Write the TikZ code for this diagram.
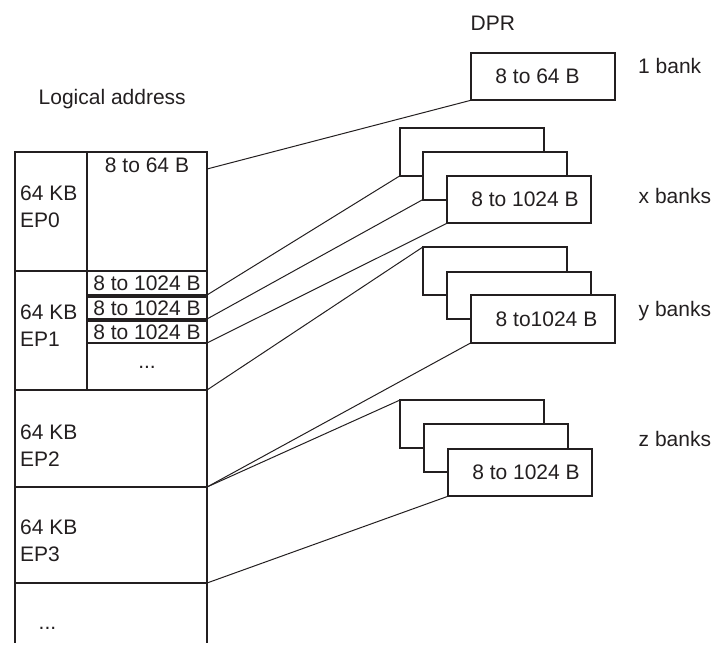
\documentclass[tikz,border=0pt]{standalone}
\usepackage{fontspec}
\setmainfont{Liberation Sans}
\usetikzlibrary{positioning}
\definecolor{ink}{HTML}{231F20}

\begin{document}
\begin{tikzpicture}[
    x=1pt, y=-1pt,
    every node/.style={font=\fontsize{21}{27}\selectfont, inner sep=0pt, text=ink},
    wall/.style={draw=ink, line width=2pt},
    cell/.style={wall, outer sep=0pt, minimum width=#1},
    slot/.style={draw=ink, line width=1.8pt, outer sep=0pt, minimum width=120pt, minimum height=#1},
    bank/.style={wall, fill=white, outer sep=0pt, minimum width=144pt, minimum height=47.5pt},
    lbl/.style={anchor=base west},
    link/.style={draw=ink, line width=1pt}
]
\useasboundingbox (0,0) rectangle (715,651);

% logical address column
\node[cell=72pt, minimum height=119pt, anchor=north west] (ep0) at (15,152) {};
\node[cell=120pt, minimum height=119pt, right=0pt of ep0] (buf0) {};
\node[cell=72pt, minimum height=119pt, below=0pt of ep0] (ep1) {};
\node[cell=120pt, minimum height=119pt, below=0pt of buf0] (buf1) {};
\node[cell=192pt, minimum height=97pt, below=0pt of ep1.south west, anchor=north west] (ep2) {};
\node[cell=192pt, minimum height=96pt, below=0pt of ep2] (ep3) {};
\draw[wall] (ep3.south west) -- ++(0,60) (ep3.south east) -- ++(0,60);

\node[slot=24pt, below=0pt of buf1.north] (s1) {8 to 1024 B};
\node[slot=22pt, below=2pt of s1] (s2) {8 to 1024 B};
\node[slot=22pt, below=2pt of s2] (s3) {8 to 1024 B};

\node (sz0) at (147,165) {8 to 64 B};
\node (dots1) at (147,367) {...};
\node[anchor=west, align=left] (ep0txt) at (20,206.5) {64 KB\\EP0};
\node[anchor=west, align=left] (ep1txt) at (20,325.5) {64 KB\\EP1};
\node[anchor=west, align=left] (ep2txt) at (20,445.5) {64 KB\\EP2};
\node[anchor=west, align=left] (ep3txt) at (20,540.5) {64 KB\\EP3};
\node (dots2) at (47.5,628) {...};

% DPR banks
\node[bank] (dpr) at (543,76.5) {8 to 64 B\hspace*{11pt}};
\node[bank] (xb1) at (472,152) {};
\node[bank] (xb2) at (494.5,176) {};
\node[bank] (xb3) at (519,199.5) {\hspace*{12pt}8 to 1024 B};
\node[bank] (yb1) at (494.5,271) {};
\node[bank] (yb2) at (519,295.5) {};
\node[bank] (yb3) at (543,319) {\hspace*{7pt}8 to1024 B};
\node[bank] (zb1) at (471.5,424) {};
\node[bank] (zb2) at (495.5,448) {};
\node[bank] (zb3) at (520,472.5) {\hspace*{12pt}8 to 1024 B};

% links
\draw[link] ([yshift=-17pt]buf0.north east) -- (dpr.south west);
\draw[link] (s1.south east) -- (xb1.south west);
\draw[link] (s2.south east) -- (xb2.south west);
\draw[link] (s3.south east) -- (xb3.south west);
\draw[link] (buf1.south east) -- (yb1.north west);
\draw[link] (ep2.south east) -- (yb3.south west);
\draw[link] (ep2.south east) -- (zb1.north west);
\draw[link] (ep3.south east) -- (zb3.south west);

\node[lbl] (logaddr) at (38.5,104) {Logical address};
\node[lbl] (dprlbl) at (470.5,30.5) {DPR};
\node[lbl] (onebank) at (638,73) {1 bank};
\node[lbl] (xlbl) at (638.5,203) {x banks};
\node[lbl] (ylbl) at (638.5,316.5) {y banks};
\node[lbl] (zlbl) at (638.5,446.5) {z banks};
\end{tikzpicture}
\end{document}
